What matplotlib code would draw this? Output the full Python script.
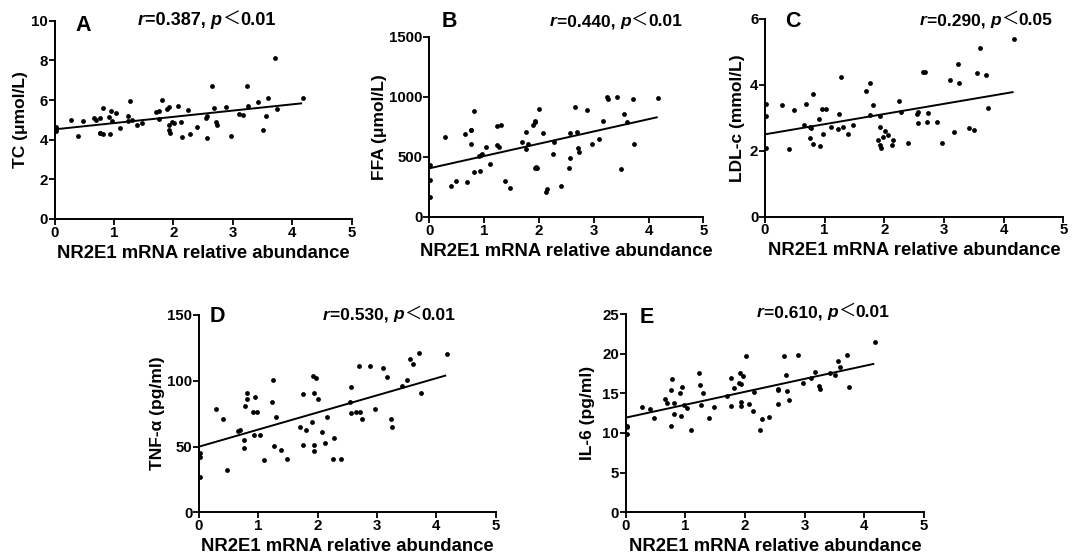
import matplotlib
matplotlib.use("Agg")
import matplotlib.pyplot as plt
import numpy as np

plt.rcParams['font.family'] = ['Liberation Sans', 'DejaVu Sans']
plt.rcParams['font.weight'] = 'bold'

# Shared x: NR2E1 mRNA relative abundance
nr2e1 = [0.02, 0.02, 0.02, 0.28, 0.40, 0.48, 0.66, 0.69, 0.77, 0.76, 0.76, 0.81, 0.81,
         0.91, 0.95, 0.97, 0.93, 1.03, 1.10, 1.23, 1.24, 1.27, 1.30, 1.39, 1.48,
         1.70, 1.76, 1.76, 1.81, 1.90, 1.92, 1.97, 1.93, 1.94, 1.93, 2.01,
         2.07, 2.13, 2.15, 2.25, 2.28, 2.40, 2.56, 2.55, 2.56, 2.65, 2.69, 2.71, 2.74,
         2.88, 2.97, 3.10, 3.17, 3.24, 3.26, 3.42, 3.50, 3.56, 3.60, 3.71, 3.74, 4.18]

tc = [4.65, 4.55, 4.45, 4.99, 4.20, 4.92, 5.09, 4.99, 5.09, 4.35, 4.32, 5.61, 4.29,
      5.13, 5.43, 4.96, 4.27, 5.34, 4.57, 5.21, 4.94, 5.97, 4.99, 4.76, 4.82,
      5.40, 5.45, 5.02, 5.99, 5.57, 5.65, 4.90, 4.48, 4.36, 4.73, 4.82,
      5.69, 4.87, 4.14, 5.49, 4.31, 4.62, 4.06, 5.07, 5.19, 6.71, 5.62, 4.90, 4.73,
      5.65, 4.19, 5.27, 5.24, 6.72, 5.72, 5.90, 4.47, 5.20, 6.08, 8.14, 5.57, 6.10]

ffa = [164, 308, 435, 665, 258, 297, 690, 294, 723, 726, 607, 882, 377,
       507, 516, 521, 383, 582, 438, 757, 596, 580, 765, 300, 244,
       621, 568, 710, 604, 763, 793, 408, 800, 413, 405, 900,
       700, 205, 232, 525, 626, 258, 493, 410, 701, 912, 707, 577, 538,
       890, 604, 651, 801, 995, 979, 1001, 399, 854, 790, 981, 607, 992]

ldl = [3.43, 3.05, 2.07, 3.38, 2.06, 3.23, 2.79, 3.43, 2.68, 2.72, 2.38, 3.72, 2.20,
       2.97, 3.28, 2.52, 2.16, 3.26, 2.71, 2.67, 3.12, 4.25, 2.73, 2.50, 2.79,
       3.81, 4.05, 3.10, 3.40, 2.33, 2.73, 2.41, 2.17, 2.10, 3.06, 2.61,
       2.48, 2.19, 2.33, 3.52, 3.17, 2.24, 3.17, 3.13, 2.83, 4.40, 4.40, 2.87, 3.14,
       2.87, 2.23, 4.15, 2.58, 4.63, 4.07, 2.68, 2.63, 4.37, 5.13, 4.30, 3.29, 5.38]

tnf = [44.8, 42.3, 27.0, 78.5, 71.0, 32.0, 61.6, 62.3, 80.8, 55.0, 48.6, 90.4, 86.0,
       76.5, 87.8, 76.5, 58.8, 58.5, 39.5, 83.9, 100.3, 50.4, 72.7, 47.0, 40.3,
       64.6, 51.2, 90.2, 62.3, 68.4, 103.4, 101.8, 91.0, 51.4, 46.6, 86.4,
       60.8, 52.7, 72.7, 40.8, 56.5, 40.8, 95.5, 84.1, 75.5, 76.5, 111.0, 76.0, 70.7,
       111.0, 78.8, 109.7, 103.1, 70.9, 64.9, 96.3, 100.6, 116.3, 112.7, 121.4, 90.4, 120.3]

il6 = [10.9, 10.7, 9.9, 13.3, 13.07, 11.93, 14.33, 13.82, 16.8, 10.9, 15.4, 13.82, 12.4,
       15.1, 15.76, 13.5, 12.2, 13.2, 10.4, 17.5, 16.05, 13.5, 15.1, 11.93, 13.3,
       14.66, 13.45, 16.93, 15.67, 16.3, 17.6, 17.2, 13.95, 13.4, 16.13, 19.66,
       13.7, 12.8, 15.2, 10.4, 11.7, 12.06, 15.5, 15.4, 13.7, 19.66, 17.3, 15.3, 14.1,
       19.8, 16.26, 16.9, 17.7, 15.9, 15.5, 17.5, 17.27, 19.07, 18.36, 19.8, 15.84, 21.5]

# Regression line end values (at x = 0 and x = 4.15)
fit_x = [0.0, 4.15]
fit_tc = [4.52, 5.83]
fit_ffa = [405, 829]
fit_ldl = [2.50, 3.78]
fit_tnf = [49.9, 103.9]
fit_il6 = [11.93, 18.7]

letters = ['A', 'B', 'C', 'D', 'E']
ylabels = ['TC (μmol/L)', 'FFA (μmol/L)', 'LDL-c (mmol/L)', 'TNF-α (pg/ml)', 'IL-6 (pg/ml)']
r_vals = ['0.387', '0.440', '0.290', '0.530', '0.610']
p_vals = ['0.01', '0.01', '0.05', '0.01', '0.01']
yticks = [[0, 2, 4, 6, 8, 10], [0, 500, 1000, 1500], [0, 2, 4, 6], [0, 50, 100, 150], [0, 5, 10, 15, 20, 25]]
xticks = [0, 1, 2, 3, 4, 5]
ys = [tc, ffa, ldl, tnf, il6]
fits = [fit_tc, fit_ffa, fit_ldl, fit_tnf, fit_il6]

W, H = 1077, 559
# axes rectangles in pixel coords: (left, right, bottom(px from top), top(px from top))
rects_px = [(54.5, 351.7, 219.0, 20.7),
            (429.3, 703.3, 217.0, 36.7),
            (765.0, 1063.3, 216.7, 19.0),
            (199.0, 495.7, 512.3, 315.0),
            (625.7, 924.0, 512.3, 314.0)]
letter_pos = [(0.069, 0.978), (0.046, 1.083), (0.067, 0.986), (0.037, 0.991), (0.048, 0.983)]
text_pos = [(0.281, 1.003), (0.44, 1.083), (0.52, 0.991), (0.418, 1.0), (0.44, 1.007)]
text_size = [13.0, 12.5, 12.5, 12.5, 12.5]
ylabel_pad = [2.5, 1.5, 3.5, 1.5, 5.0]
xlabel_pad = [3.5, 3.5, 3.5, 3.5, 3.5]

fig = plt.figure(figsize=(W / 100, H / 100), dpi=100)

for i in range(5):
    l, r, b, t = rects_px[i]
    ax = fig.add_axes([l / W, 1 - b / H, (r - l) / W, (b - t) / H])
    ax.scatter(nr2e1, ys[i], s=12, color='black', zorder=3, linewidths=0)
    ax.plot(fit_x, fits[i], color='black', lw=1.4)
    ax.set_xlim(0, 5)
    ax.set_ylim(yticks[i][0], yticks[i][-1])
    ax.set_xticks(xticks)
    ax.set_yticks(yticks[i])
    ax.spines['top'].set_visible(False)
    ax.spines['right'].set_visible(False)
    for s in ['left', 'bottom']:
        ax.spines[s].set_linewidth(1.4)
    ax.tick_params(direction='out', length=4, width=1.3, labelsize=10.8, pad=0.8)
    for lab in ax.get_xticklabels() + ax.get_yticklabels():
        lab.set_fontweight('bold')
    ax.set_xlabel('NR2E1 mRNA relative abundance', fontsize=13.3, fontweight='bold',
                  labelpad=xlabel_pad[i])
    ax.set_ylabel(ylabels[i], fontsize=12.5, fontweight='bold', labelpad=ylabel_pad[i])
    ax.text(letter_pos[i][0], letter_pos[i][1], letters[i], transform=ax.transAxes,
            fontsize=15.5, fontweight='bold', ha='left', va='center')
    # rich correlation text
    pieces = [('r', 'italic', 'bold', ['Liberation Sans']),
              ('=' + r_vals[i] + ', ', 'normal', 'bold', ['Liberation Sans']),
              ('p', 'italic', 'bold', ['Liberation Sans']),
              ('＜', 'normal', 'normal', ['Noto Sans CJK SC']),
              (p_vals[i], 'normal', 'bold', ['Liberation Sans'])]
    prev = None
    for txt, style, weight, fam in pieces:
        if prev is None:
            prev = ax.text(text_pos[i][0], text_pos[i][1], txt, transform=ax.transAxes,
                           fontsize=text_size[i], fontstyle=style, fontweight=weight, family=fam,
                           ha='left', va='center')
        else:
            prev = ax.annotate(txt, xy=(1, 0), xycoords=prev, fontsize=text_size[i],
                               fontstyle=style, fontweight=weight, family=fam,
                               ha='left', va='bottom')

fig.savefig('out.png', dpi=100)
